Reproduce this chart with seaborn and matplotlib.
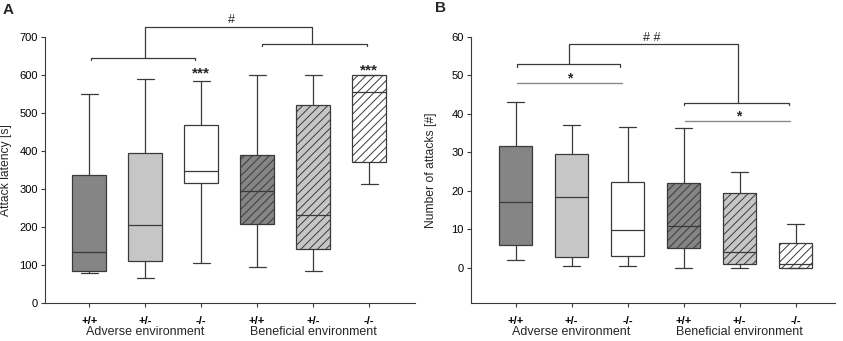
"""
Attack latency / number of attacks by genotype and environment
Box plots drawn from the five-number summaries read off the figure.
"""

import pandas as pd
import matplotlib
matplotlib.use("Agg")
import matplotlib.pyplot as plt
import seaborn as sns

# groups: environment x genotype
groups = ["adv_wt", "adv_het", "adv_ko", "ben_wt", "ben_het", "ben_ko"]
genotype_labels = ["+/+", "+/-", "-/-", "+/+", "+/-", "-/-"]
environment_labels = ["Adverse environment", "Beneficial environment"]

# panel A: attack latency [s]  (whisker low, Q1, median, Q3, whisker high)
latency_low = [78, 67, 104, 95, 85, 314]
latency_q1 = [83, 111, 316, 207, 141, 371]
latency_med = [135, 204, 348, 296, 232, 554]
latency_q3 = [337, 396, 469, 389, 520, 600]
latency_high = [550, 589, 584, 600, 600, 600]

# panel B: number of attacks [#]
attacks_low = [1.9, 0.4, 0.3, 0.0, 0.0, 0.0]
attacks_q1 = [5.9, 2.7, 2.9, 5.2, 0.9, 0.0]
attacks_med = [17.0, 18.5, 9.9, 10.9, 4.0, 1.0]
attacks_q3 = [31.7, 29.5, 22.2, 21.9, 19.5, 6.5]
attacks_high = [43.0, 37.0, 36.6, 36.4, 25.0, 11.4]

fills = ["#858585", "#c6c6c6", "#ffffff", "#858585", "#c6c6c6", "#ffffff"]
EDGE = "#3a3a3a"


def five_num_frame(low, q1, med, q3, high):
    rows = []
    for g, vals in zip(groups, zip(low, q1, med, q3, high)):
        for v in vals:
            rows.append({"group": g, "value": v})
    return pd.DataFrame(rows)


def draw_panel(ax, df):
    # 5 points per group -> percentiles 0/25/50/75/100 are exactly the summary
    sns.boxplot(data=df, x="group", y="value", hue="group", order=groups,
                hue_order=groups, palette=fills, saturation=1, width=0.6,
                whis=(0, 100), linecolor=EDGE, linewidth=0.9, legend=False,
                ax=ax)
    for patch in ax.patches:
        ext = patch.get_path().get_extents()
        cx = (ext.x0 + ext.x1) / 2
        if cx > 2.5:
            patch.set_hatch("////")
    ax.set_xticks(range(6))
    ax.set_xticklabels(genotype_labels, fontweight="bold", fontsize=8)
    ax.set_xlabel("")
    for i, lab in enumerate(environment_labels):
        ax.text(1 + 3 * i, -0.11, lab, transform=ax.get_xaxis_transform(),
                ha="center", va="center", fontsize=9, clip_on=False)
    ax.tick_params(axis="x", length=3, width=0.8, pad=6, colors=EDGE,
                   labelcolor="black")
    ax.tick_params(axis="y", length=3, width=0.8, pad=2, colors=EDGE,
                   labelcolor="black", labelsize=8)
    sns.despine(ax=ax)
    for s in ["left", "bottom"]:
        ax.spines[s].set_color(EDGE)
        ax.spines[s].set_linewidth(0.8)


def bracket(ax, x0, x1, y, tick, color=EDGE):
    ax.plot([x0, x0, x1, x1], [y - tick, y, y, y - tick], color=color,
            lw=0.9, clip_on=False)


sns.set_theme(style="ticks")
plt.rcParams["font.family"] = ["Liberation Sans", "DejaVu Sans"]
plt.rcParams["hatch.linewidth"] = 0.7
plt.rcParams["hatch.color"] = "#222222"

fig = plt.figure(figsize=(8.43, 3.41), dpi=100)
axA = fig.add_axes([0.0534, 0.1114, 0.4389, 0.7801])
axB = fig.add_axes([0.5584, 0.1114, 0.4318, 0.7801])

# ---- panel A
draw_panel(axA, five_num_frame(latency_low, latency_q1, latency_med,
                               latency_q3, latency_high))
axA.set_ylim(0, 700)
axA.set_xlim(-0.79, 5.82)
axA.set_yticks(range(0, 701, 100))
axA.set_ylabel("Attack latency [s]", fontsize=8.7)
axA.yaxis.set_label_coords(-0.088, 0.5)
bracket(axA, 0.04, 1.89, 645, 6)
bracket(axA, 3.09, 4.96, 681, 6)
axA.plot([0.99, 0.99, 3.98, 3.98], [645, 727, 727, 681], color=EDGE,
         lw=0.9, clip_on=False)
axA.text(2.54, 729, "#", ha="center", va="bottom", fontsize=9, clip_on=False)
axA.text(2, 603, "***", ha="center", va="center", fontsize=11,
         fontweight="bold")
axA.text(5, 612, "***", ha="center", va="center", fontsize=11,
         fontweight="bold", clip_on=False)

# ---- panel B
draw_panel(axB, five_num_frame(attacks_low, attacks_q1, attacks_med,
                               attacks_q3, attacks_high))
axB.set_ylim(-9.2, 60)
axB.set_xlim(-0.80, 5.70)
axB.set_yticks(range(0, 61, 10))
axB.spines["left"].set_bounds(-9.2, 60)
axB.set_ylabel("Number of attacks [#]", fontsize=8.7)
axB.yaxis.set_label_coords(-0.093, 0.5)
bracket(axB, 0.02, 1.87, 52.9, 0.6)
bracket(axB, 3.01, 4.88, 42.8, 0.6)
axB.plot([0.95, 0.95, 3.98, 3.98], [52.9, 58.1, 58.1, 42.8], color=EDGE,
         lw=0.9, clip_on=False)
axB.plot([0.02, 1.9], [48.1, 48.1], color="#8a8a8a", lw=1.0)
axB.plot([3.02, 4.9], [38.2, 38.2], color="#8a8a8a", lw=1.0)
axB.text(0.97, 49.1, "*", ha="center", va="center", fontsize=10,
         fontweight="bold")
axB.text(3.99, 39.2, "*", ha="center", va="center", fontsize=10,
         fontweight="bold")
axB.text(2.44, 58.3, "# #", ha="center", va="bottom", fontsize=9,
         clip_on=False)

fig.text(8.5 / 843, 1 - 9.5 / 341, "A", fontsize=11, fontweight="bold",
         ha="center", va="center")
fig.text(440 / 843, 1 - 8.5 / 341, "B", fontsize=11, fontweight="bold",
         ha="center", va="center")

fig.savefig("out.png", dpi=100)
